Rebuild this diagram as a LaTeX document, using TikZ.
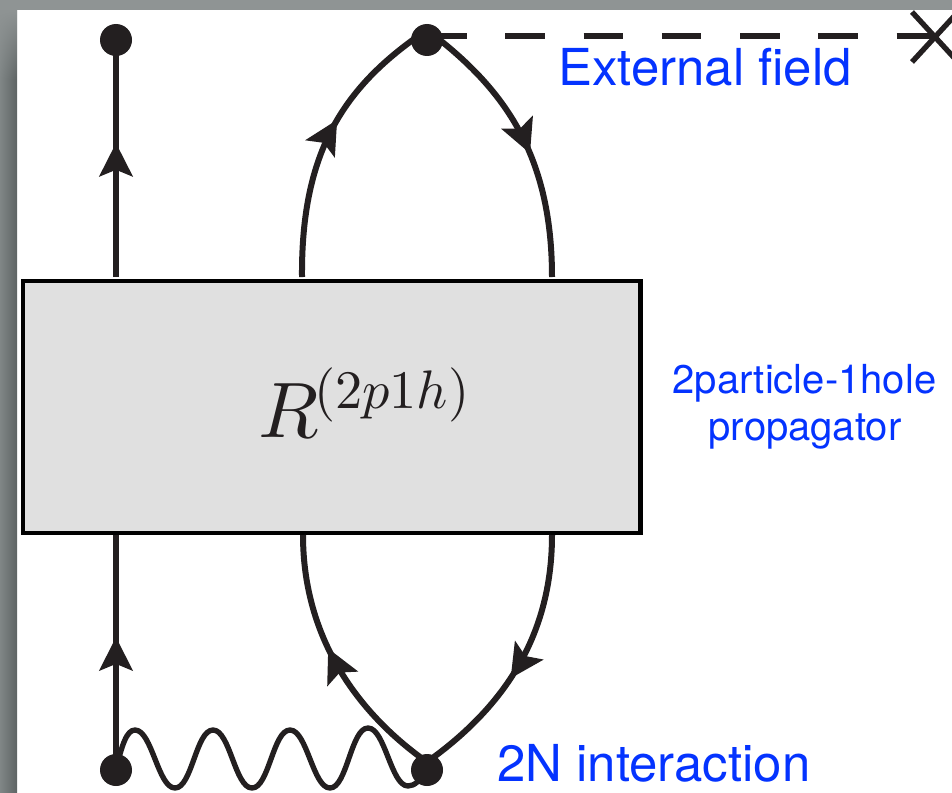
\documentclass[tikz,border=0pt]{standalone}
\usepackage{fontspec}
\setsansfont{TeX Gyre Heros}
\usetikzlibrary{arrows.meta,decorations.markings,fadings}
\definecolor{ink}{HTML}{231F20}
\definecolor{labelblue}{HTML}{0433FF}
\definecolor{boxgrey}{HTML}{E0E0E0}
\definecolor{bandtop}{RGB}{143,148,148}
\definecolor{bandlight}{RGB}{128,134,134}
\definecolor{banddark}{RGB}{94,100,100}
\tikzset{
  x=0.75pt,y=-0.75pt,
  fermion/.style={draw=ink,line width=3.9pt},
  curved/.style={draw=ink,line width=4.5pt},
  thinline/.style={draw=ink,line width=4pt},
  vertexdot/.style={circle,fill=ink,inner sep=0pt,minimum size=24pt},
  headat/.style={postaction={decorate},decoration={markings,mark=at position #1 with {\arrow{Stealth[length=25pt,width=25pt,inset=5pt,color=ink]}}}},
  biglabel/.style={anchor=base west,inner sep=0pt,text=labelblue,font=\sffamily\fontsize{38.2}{44}\selectfont},
  smalllabel/.style={anchor=base,inner sep=0pt,text=labelblue,font=\sffamily\fontsize{30}{36}\selectfont},
}
\begin{document}
\begin{tikzpicture}
\useasboundingbox (0,0) rectangle (952,792);
\clip (0,0) rectangle (952,792);
% screenshot frame
\fill[white] (0,0) rectangle (952,792);
\shade[left color=bandlight,right color=banddark] (0,0) rectangle (17,792);
\fill[bandtop,path fading=south] (0,10) rectangle (17,80);
\fill[bandtop] (0,0) rectangle (952,10);
% anchors
\coordinate (tl) at (116,277);
\coordinate (bl) at (116,535);
\coordinate (tal) at (302,277);
\coordinate (tar) at (552,277);
\coordinate (bal) at (303,535);
\coordinate (bar) at (552,535);
\coordinate (apextop) at (427,30);
\coordinate (apexbot) at (427,762);
\coordinate (cross) at (935,36);
\coordinate (c1) at (912,12);
\coordinate (c2) at (958,62);
\coordinate (c3) at (912,62);
\coordinate (c4) at (958,12);
\coordinate (dashstart) at (427,36);
% box
\node[draw=black,line width=3.4pt,fill=boxgrey,minimum width=463pt,minimum height=189pt,inner sep=0pt] (box) at (331.7,407) {};
\node[anchor=base west,inner sep=0pt,scale=5.9,text=ink] (rlabel) at (257,437) {$R\kern-0.6pt\raisebox{3.67pt}{\scalebox{0.69}{$(2p1h)$}}$};
% vertices
\coordinate (v1) at (116,40);
\coordinate (v2) at (427,40);
\coordinate (v3) at (116,770);
\coordinate (v4) at (427,770);
% fermion lines
\draw[fermion,headat=0.565] (tl) -- (v1);
\draw[fermion,headat=0.565] (v3) -- (bl);
\draw[curved,headat=0.56] (tal) .. controls (301,150) and (345,85) .. (apextop);
\draw[curved,headat=0.563] (apextop) .. controls (500,85) and (552,150) .. (tar);
\draw[curved,headat=0.565] (apexbot) .. controls (360,715) and (303,640) .. (bal);
\draw[curved,headat=0.56] (bar) .. controls (552,640) and (500,710) .. (apexbot);
% external field
\draw[draw=ink,line width=3.9pt,dash pattern=on 29.7pt off 29pt] (dashstart) -- (cross);
\draw[thinline] (c1) -- (c2);
\draw[thinline] (c3) -- (c4);
% interaction
\draw[thinline] (v3) .. controls (122,744) and (127,730) .. (135,730)
  .. controls (152,730) and (158,788) .. (175,788)
  .. controls (192,788) and (196,730) .. (213,730)
  .. controls (230,730) and (235,788) .. (252,788)
  .. controls (269,788) and (273,730) .. (290,730)
  .. controls (307,730) and (313,788) .. (330,788)
  .. controls (347,788) and (351,728) .. (368,728)
  .. controls (385,728) and (391,786) .. (408,786)
  .. controls (415,786) and (420,780) .. (v4);
\node[vertexdot] (d1) at (v1) {};
\node[vertexdot] (d2) at (v2) {};
\node[vertexdot] (d3) at (v3) {};
\node[vertexdot] (d4) at (v4) {};
% labels
\node[biglabel] (ext) at (558,85) {External field};
\node[biglabel] (inter) at (497,781) {2N interaction};
\node[smalllabel] (p1) at (804.5,393) {2particle-1hole};
\node[smalllabel] (p2) at (805,440) {propagator};
\end{tikzpicture}
\end{document}
